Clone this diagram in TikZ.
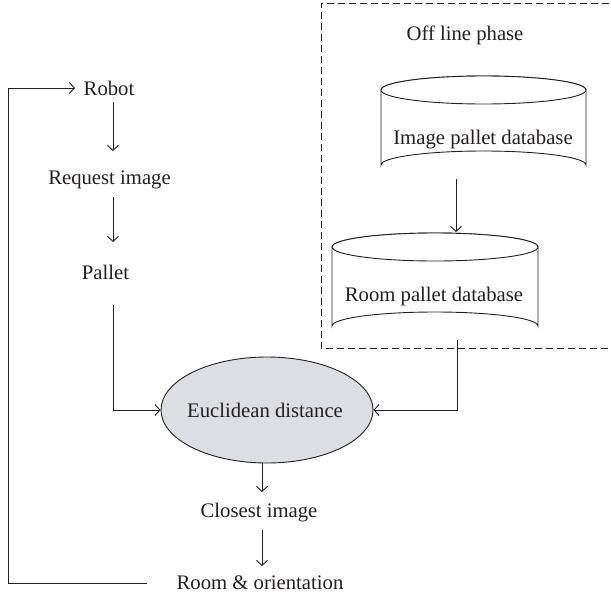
\documentclass[tikz,border=0pt]{standalone}
\usepackage{fontspec}
\setmainfont{Liberation Serif}
\usetikzlibrary{arrows.meta,shapes.geometric}
\definecolor{ink}{HTML}{231F20}
\definecolor{ovalfill}{HTML}{DCDEE3}
\begin{document}
\begin{tikzpicture}[x=1pt,y=-1pt,
  every node/.style={font=\fontsize{20.7}{24}\selectfont, text=ink, inner sep=0pt},
  lbl/.style={anchor=center},
  flow/.style={draw=ink, line width=0.9pt, -{Straight Barb[length=5pt,width=11pt,line width=0.9pt]}},
  cyl/.style={draw=ink, line width=0.9pt, fill=white}]
\useasboundingbox (0,0) rectangle (611,600);

% off-line phase frame
\draw[draw=ink, line width=0.9pt, dash pattern=on 7pt off 4pt]
  (620,3) -- (321,3) -- (321,348) -- (620,348);
\node[lbl] (phase) at (465,35) {Off line phase};

% image pallet database cylinder
\draw[cyl] (381,90) -- (381,165) arc[start angle=180,end angle=360,x radius=102.5,y radius=14]
  -- (586,90) arc[start angle=0,end angle=-180,x radius=102.5,y radius=14];
\draw[cyl] (483.5,90) ellipse[x radius=102.5,y radius=14];
\node[lbl] (imgdb) at (483,140) {Image pallet database};
\coordinate (imgdbout) at (456,179);

% room pallet database cylinder
\draw[cyl] (332,247) -- (332,326) arc[start angle=180,end angle=360,x radius=103,y radius=14]
  -- (538,247) arc[start angle=0,end angle=-180,x radius=103,y radius=14];
\draw[cyl] (435,247) ellipse[x radius=103,y radius=14];
\node[lbl] (roomdb) at (434,297) {Room pallet database};
\coordinate (roomdbin) at (456,232);
\coordinate (roomdbout) at (457,340);

% on-line chain
\node[lbl] (robot) at (109,88) {Robot};
\node[lbl] (request) at (109.5,180) {Request image};
\node[lbl] (pallet) at (105.5,272) {Pallet};
\node[ellipse, draw=ink, line width=0.9pt, fill=ovalfill,
      minimum width=212pt, minimum height=106pt] (euclid) at (267,410) {};
\node[lbl] (euclidtext) at (265,410) {Euclidean distance};
\node[lbl] (closest) at (259,513) {Closest image};
\node[lbl] (room) at (260,583) {Room \& orientation};

\coordinate (c1) at (113,102);
\coordinate (c2) at (113,151);
\coordinate (c3) at (113,197);
\coordinate (c4) at (113,242);
\coordinate (c5) at (113,305);
\coordinate (c6) at (262,463);
\coordinate (c7) at (262,492);
\coordinate (c8) at (262,530);
\coordinate (c9) at (262,566);
\coordinate (back) at (147,583);
\coordinate (robotin) at (75,88);
\draw[flow] (c1) -- (c2);
\draw[flow] (c3) -- (c4);
\draw[flow] (c5) |- (euclid.west);
\draw[flow] (imgdbout) -- (roomdbin);
\draw[flow] (roomdbout) |- (euclid.east);
\draw[flow] (c6) -- (c7);
\draw[flow] (c8) -- (c9);
\draw[flow] (back) -- (8,583) -- (8,88) -- (robotin);
\end{tikzpicture}
\end{document}
